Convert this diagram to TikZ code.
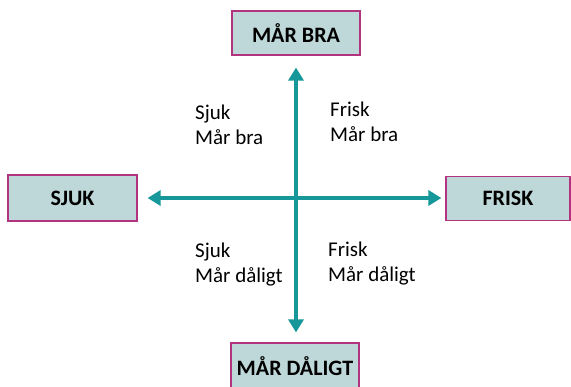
\documentclass[tikz,border=0pt]{standalone}
\usepackage{fontspec}
\setmainfont{Carlito}
\usetikzlibrary{arrows.meta,positioning}
\definecolor{axisteal}{RGB}{22,152,154}
\definecolor{boxfill}{RGB}{190,215,216}
\definecolor{boxline}{RGB}{178,52,128}
\begin{document}
\begin{tikzpicture}[x=1pt,y=-1pt,
every node/.style={font=\fontsize{21}{25}\selectfont},
pole/.style={draw=boxline,line width=1.2pt,fill=boxfill,minimum height=44pt,
 font=\fontsize{22}{25}\selectfont\bfseries,inner sep=0pt},
quad/.style={align=left,anchor=west,inner sep=0pt},
axis/.style={draw=axisteal,line width=3.8pt,{Triangle[length=13pt,width=15pt]}-{Triangle[length=13pt,width=15pt]}}]
\useasboundingbox (0,0) rectangle (571,387);
\node[pole,minimum width=128pt] (bra) at (296,33) {MÅR BRA};
\node[pole,minimum width=129pt,minimum height=46pt] (sjuk) at (72.5,198) {SJUK};
\node[pole,minimum width=124pt] (frisk) at (508,198.5) {FRISK};
\node[pole,minimum width=128pt,minimum height=46pt] (daligt) at (295,366) {MÅR DÅLIGT};

\node[quad] (q1) at (195,125) {Sjuk\\Mår bra};
\node[quad] (q2) at (330,122) {Frisk\\Mår bra};
\node[quad] (q3) at (195,265) {Sjuk\\Mår dåligt};
\node[quad] (q4) at (328,264) {Frisk\\Mår dåligt};

\draw[axis,shorten <=12pt,shorten >=10pt] (bra.south) -- (bra.south |- daligt.north);
\draw[axis,shorten <=10pt,shorten >=4pt] (sjuk.east) -- (sjuk.east -| frisk.west);
\end{tikzpicture}
\end{document}
